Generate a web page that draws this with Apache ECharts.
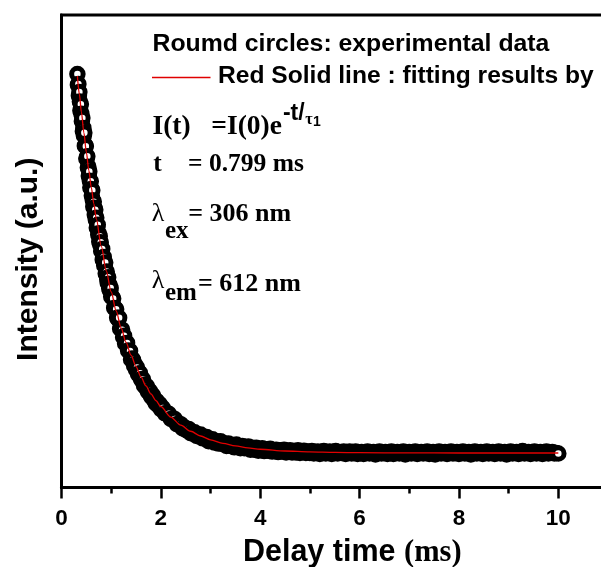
<!DOCTYPE html>
<html><head><meta charset="utf-8">
<script src="https://cdn.jsdelivr.net/npm/echarts@6/dist/echarts.min.js"></script>
<style>html,body{margin:0;padding:0;background:#fff}#c{width:601px;height:567px}</style>
</head><body><div id="c"></div>
<script>
// ---- data ----
const xTickValues = [0, 2, 4, 6, 8, 10];
// experimental decay, sampled in three segments (start time, sampling step in ms)
const startA = 0.32, stepA = 0.01;
const intensityA = [
  87.5, 85.2, 85.4, 82.9, 83.7, 81.7, 79.8, 81.1, 79.1, 77.5,
  78.2, 75.4, 76.1, 74.5, 75.1, 72.3, 72.4, 72.2, 69.6, 69.8,
  70.1, 67.7, 67.9, 65.9, 66.9, 64.9, 63.5, 64.8, 63.2, 61.8,
  62.9, 60.8, 59.4, 60.5, 59.2, 57.7, 58.8, 56.7, 57.1, 55.0,
  55.2, 55.6, 53.5, 53.8, 52.0, 53.2, 51.4, 51.9, 50.0, 50.1,
  50.5, 48.2, 48.6, 48.8, 47.0, 47.2, 47.6, 45.3, 45.4, 45.7,
  44.1, 43.3, 44.5, 43.1, 42.1, 42.8, 41.6, 42.2, 40.4
];
const startB = 1.02, stepB = 0.02;
const intensityB = [
  40.3, 40.0, 38.0, 37.9, 37.7, 35.9, 35.6, 35.9, 33.6, 33.5,
  33.4, 31.8, 32.1, 30.5, 30.5, 30.6, 29.0, 28.8, 28.9, 27.1,
  27.3, 27.0, 25.8, 26.0, 25.0, 25.4, 24.0, 24.1, 24.2, 22.9,
  22.8, 22.9, 21.6, 21.8, 21.1, 21.4, 20.3, 20.4, 20.4, 19.3,
  19.3, 19.5, 18.5, 18.6, 17.8, 18.3, 17.4, 17.4, 17.6, 16.6
];
const startC = 2.04, stepC = 0.04;
const intensityC = [
  16.8, 15.7, 15.7, 15.6, 14.5, 14.4, 14.5, 13.4, 13.5, 13.4,
  12.5, 12.7, 12.1, 12.4, 11.5, 11.7, 11.7, 10.9, 11.1, 11.2,
  10.4, 10.4, 10.7, 9.8, 10.1, 10.2, 9.5, 9.8, 9.3, 9.8,
  9.2, 9.3, 8.8, 9.3, 8.8, 9.0, 8.5, 9.1, 8.6, 8.3,
  8.8, 8.3, 8.4, 8.7, 8.0, 8.4, 8.0, 8.4, 7.8, 8.1,
  8.3, 7.7, 8.1, 7.8, 8.2, 7.6, 7.9, 8.0, 7.5, 7.9,
  7.6, 8.0, 7.4, 7.7, 7.9, 7.4, 7.7, 7.4, 7.9, 7.3,
  7.6, 7.8, 7.3, 7.6, 7.3,
  7.7, 7.2, 7.5, 7.6, 7.1, 7.5, 7.7, 7.2, 7.4, 7.6,
  7.1, 7.5, 7.7, 7.2, 7.4, 7.3, 7.6, 7.1, 7.4, 7.6,
  7.2, 7.3, 7.6, 7.1, 7.4, 7.5, 7.1, 7.3, 7.6, 7.2,
  7.4, 7.5, 7.0, 7.3, 7.6, 7.2, 7.3, 7.5, 7.1, 7.4,
  7.6, 7.1, 7.3, 7.5, 7.2, 7.4, 7.6, 7.0, 7.3, 7.5,
  7.2, 7.4, 7.6, 7.1, 7.3, 7.5, 7.2, 7.4, 7.6, 7.1,
  7.3, 7.5, 7.0, 7.3, 7.6, 7.2, 7.4, 7.5, 7.1, 7.3,
  7.6, 7.2, 7.3, 7.5, 7.1, 7.4, 7.6, 7.2, 7.3, 7.5,
  7.0, 7.3, 7.6, 7.2, 7.4, 7.5, 7.1, 7.3, 7.6, 7.2,
  7.4, 7.5, 7.1, 7.3, 7.6, 7.2, 7.4, 7.5, 7.0, 7.3,
  7.6, 7.2, 7.4, 7.5, 7.1, 7.3, 7.7, 7.2, 7.4, 7.5,
  7.1, 7.3, 7.6, 7.2, 7.4, 7.5, 7.1, 7.3, 7.6, 7.2,
  7.4, 7.5, 7.2, 7.3, 7.2
];
// red fitted curve
const fitTime = [0.32, 0.36, 0.40, 0.45, 0.50, 0.55, 0.60, 0.65, 0.70, 0.80, 0.90, 1.00, 1.10, 1.20, 1.30, 1.40, 1.50, 1.60, 1.70, 1.80, 1.90, 2.00, 2.20, 2.40, 2.60, 2.80, 3.00, 3.25, 3.50, 3.75, 4.00, 4.50, 5.00, 5.50, 6.00, 7.00, 8.00, 10.00];
const fitValue = [87.1, 83.2, 79.5, 75.1, 71.0, 67.1, 63.5, 60.1, 56.9, 51.1, 45.9, 41.4, 37.4, 33.8, 30.7, 28.0, 25.6, 23.4, 21.5, 19.8, 18.4, 17.1, 14.9, 13.2, 11.9, 10.9, 10.1, 9.35, 8.8, 8.4, 8.1, 7.73, 7.53, 7.42, 7.37, 7.32, 7.30, 7.30];

// ---- build ----
function segment(start, step, vals) {
  return vals.map((v, i) => [Math.round((start + i * step) * 1000) / 1000, v]);
}
const expData = segment(startA, stepA, intensityA)
  .concat(segment(startB, stepB, intensityB))
  .concat(segment(startC, stepC, intensityC));
const fitData = fitTime.map((t, i) => [t, fitValue[i]]);

const SANS = '"Liberation Sans", Arial, sans-serif';
const SERIF = '"Liberation Serif", "Times New Roman", serif';
const mctx = document.createElement('canvas').getContext('2d');
function textWidth(s, font) { mctx.font = font; return mctx.measureText(s).width; }
function txt(s, x, baseline, size, family, bold) {
  const font = (bold === false ? '' : 'bold ') + size + 'px ' + family;
  const mid = baseline - size * (family === SERIF ? 0.3375 : 0.3465);
  return {
    type: 'text', x: x, y: mid, silent: true,
    style: { text: s, font: font, fill: '#000', align: 'left', verticalAlign: 'middle',
             textAlign: 'left', textVerticalAlign: 'middle' },
    _w: textWidth(s, font)
  };
}

const g = [];
g.push(txt('Roumd circles: experimental data', 152.5, 53, 24.8, SANS));
g.push({ type: 'line', silent: true, shape: { x1: 152, y1: 77.5, x2: 210.5, y2: 77.5 },
         style: { stroke: '#e00000', lineWidth: 1.3 } });
g.push(txt('Red Solid line : fitting results by', 218, 85, 24.6, SANS));
const f1 = txt('I(t)   =I(0)e', 152.5, 136, 27.5, SERIF);
g.push(f1);
const f2 = txt('-t/', 152.5 + f1._w + 1, 121.5, 23, SANS);
g.push(f2);
const f3 = txt('\u03c4', f2.x + f2._w + 0.5, 125, 16, SERIF);
g.push(f3);
g.push(txt('1', f3.x + f3._w + 0.5, 127, 14, SANS));
g.push(txt('t', 153.3, 173, 25.5, SERIF));
g.push(txt('= 0.799 ms', 188, 173, 25.5, SERIF));
g.push(txt('\u03bb', 151.7, 223, 26, SERIF, false));
g.push(txt('ex', 165, 240, 25, SERIF));
g.push(txt('= 306 nm', 188.3, 223, 26, SERIF));
g.push(txt('\u03bb', 151.7, 290, 26, SERIF, false));
g.push(txt('em', 165, 302, 25, SERIF));
g.push(txt('= 612 nm', 198, 293, 26, SERIF));
g.forEach(e => delete e._w);

const chart = echarts.init(document.getElementById('c'), null, { renderer: 'canvas', width: 601, height: 567 });
chart.setOption({
  animation: false,
  backgroundColor: '#fff',
  grid: { left: 61.5, top: 15, right: -7, bottom: 79.5, containLabel: false, outerBoundsMode: 'none',
          show: true, borderColor: '#000', borderWidth: 3, backgroundColor: 'transparent' },
  xAxis: {
    type: 'value', min: 0, max: 11, interval: 2,
    name: '{a|Delay time }{b|(ms)}', nameLocation: 'middle', nameGap: 50,
    nameTextStyle: { padding: [0, 0, 0, 35], rich: {
      a: { fontFamily: SANS, fontWeight: 'bold', fontSize: 30.5, color: '#000' },
      b: { fontFamily: SERIF, fontWeight: 'bold', fontSize: 30.5, color: '#000' } } },
    axisLine: { show: true, onZero: false, lineStyle: { color: '#000', width: 3 } },
    axisTick: { show: true, inside: false, length: 11, lineStyle: { color: '#000', width: 2.5 } },
    minorTick: { show: true, splitNumber: 2, length: 6, lineStyle: { color: '#000', width: 2.5 } },
    axisLabel: { show: true, margin: 19.5, fontFamily: SANS, fontWeight: 'bold', fontSize: 22.5, color: '#000', showMaxLabel: false,
      formatter: v => (xTickValues.indexOf(v) >= 0 ? String(v) : '') },
    splitLine: { show: false }, minorSplitLine: { show: false }
  },
  yAxis: {
    type: 'value', min: 0, max: 100,
    name: 'Intensity (a.u.)', nameLocation: 'middle', nameGap: 18, nameRotate: 90,
    nameTextStyle: { fontFamily: SANS, fontWeight: 'bold', fontSize: 30, color: '#000', padding: [0, 16, 0, 0] },
    axisLine: { show: true, onZero: false, lineStyle: { color: '#000', width: 3 } },
    axisTick: { show: false }, axisLabel: { show: false }, splitLine: { show: false }
  },
  series: [
    { type: 'scatter', name: 'experimental data', data: expData, symbol: 'circle', symbolSize: 11.5,
      silent: true, itemStyle: { color: '#fff', borderColor: '#000', borderWidth: 5, opacity: 1 } },
    { type: 'line', name: 'fit', data: fitData, showSymbol: false, smooth: 0.3, smoothMonotone: 'x',
      silent: true, lineStyle: { color: '#e00000', width: 1.3 } }
  ],
  graphic: g
});
</script>
</body></html>
